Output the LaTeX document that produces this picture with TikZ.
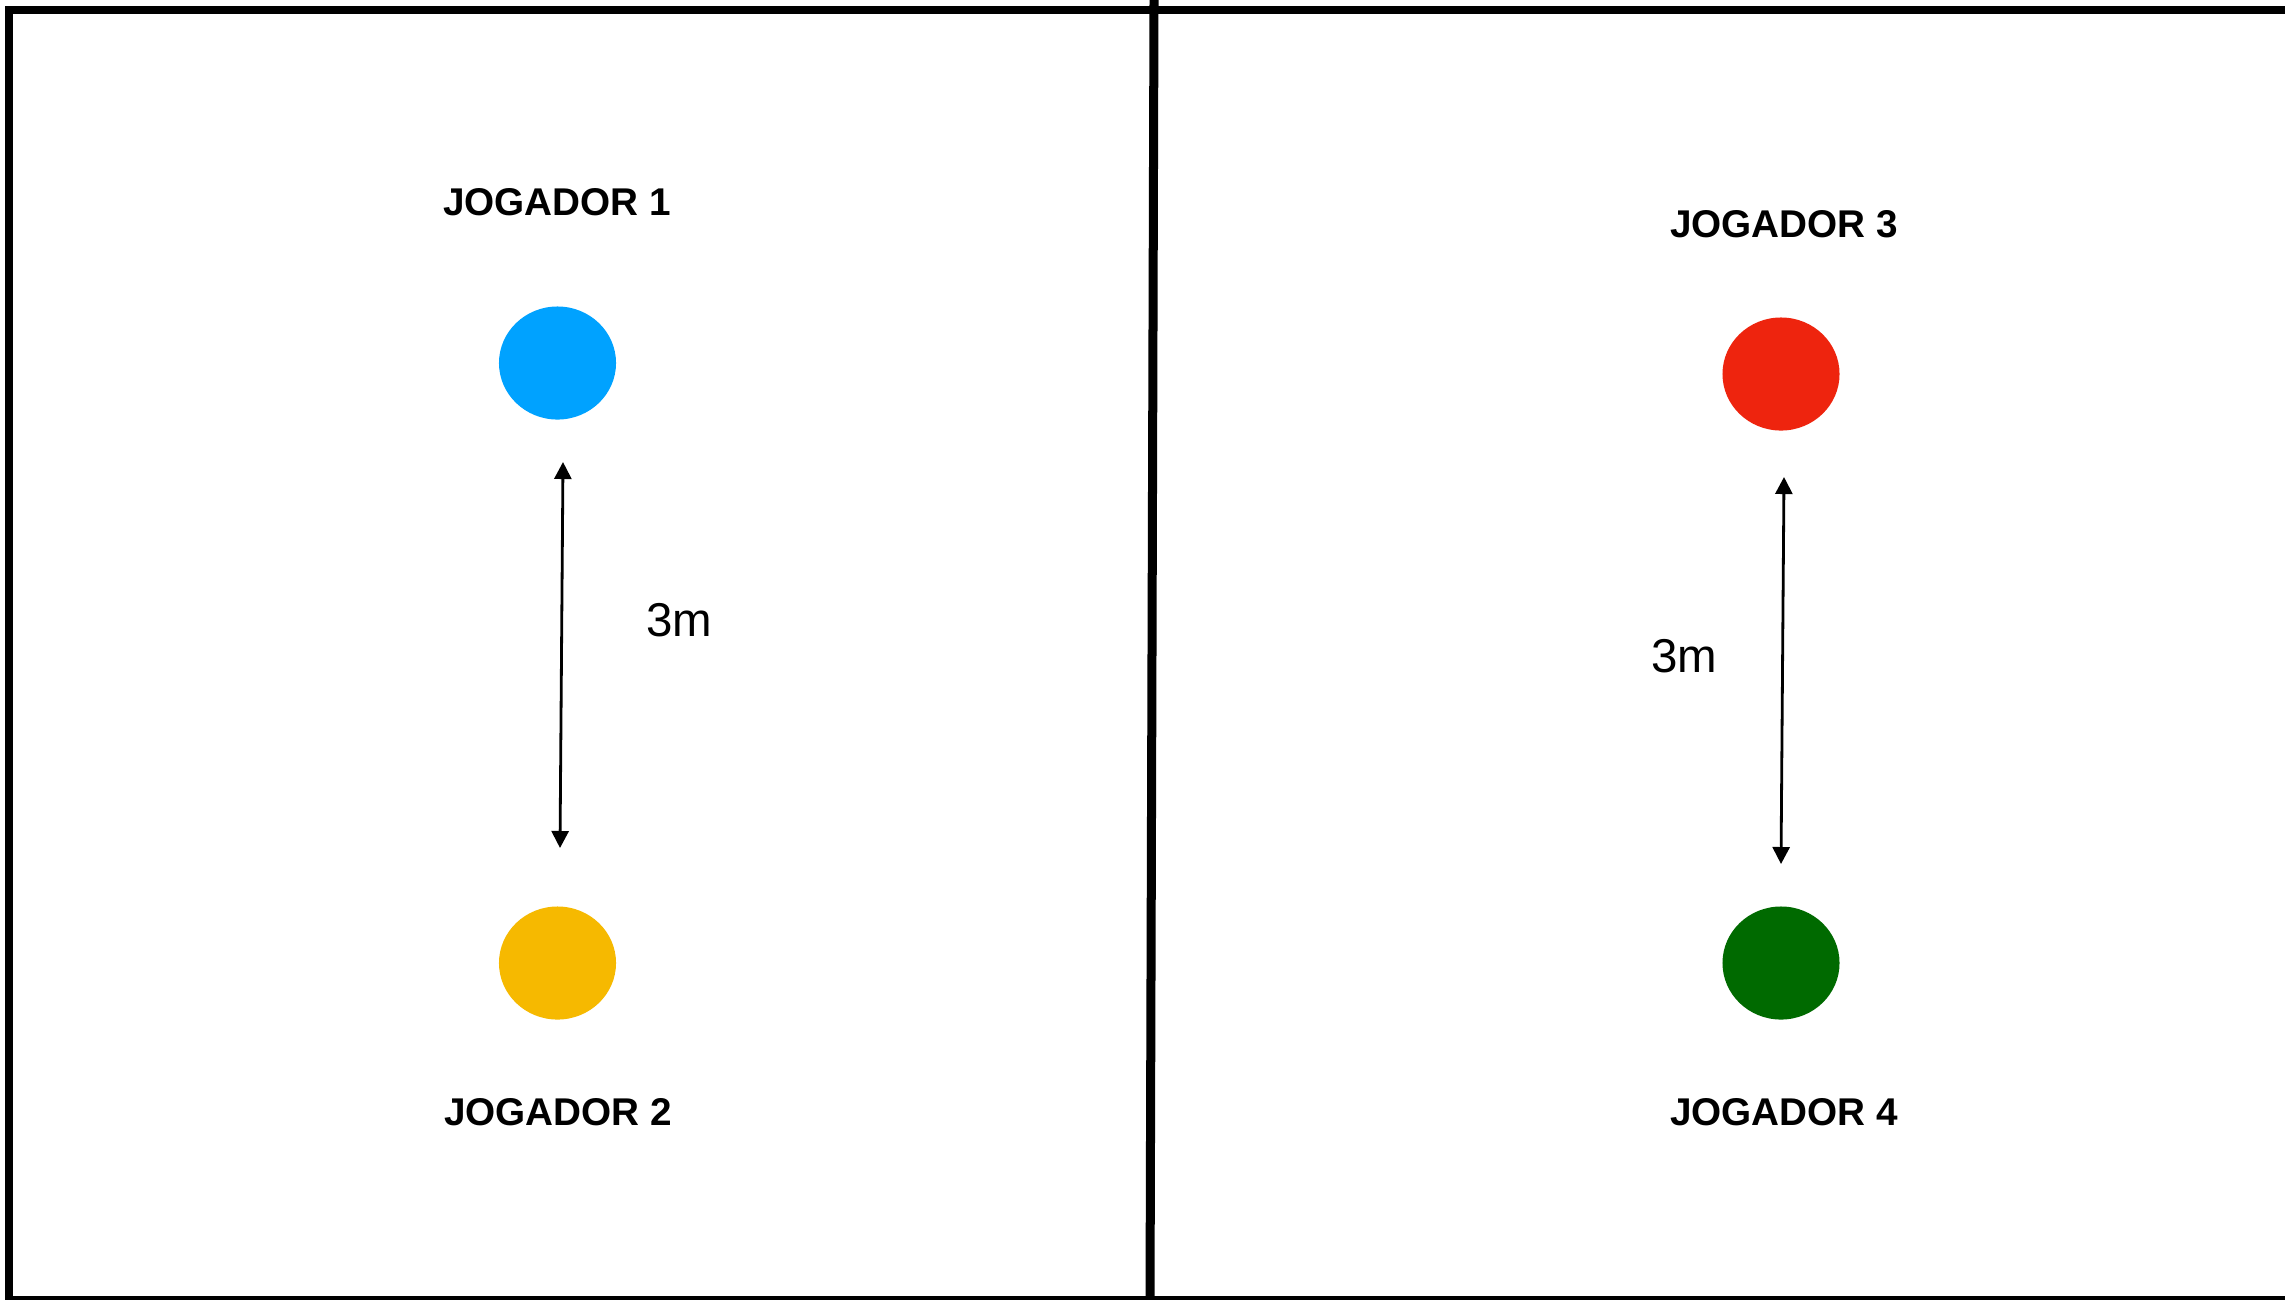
\documentclass[tikz,border=0pt]{standalone}
\usepackage{fontspec}
\setmainfont{Liberation Sans}
\usetikzlibrary{arrows.meta,shapes.geometric}
\definecolor{pblue}{RGB}{0,162,255}
\definecolor{pyellow}{RGB}{246,185,0}
\definecolor{pred}{RGB}{238,36,14}
\definecolor{pgreen}{RGB}{0,106,0}
\begin{document}
\begin{tikzpicture}[x=0.01cm,y=-0.01cm,
  player/.style={ellipse,minimum width=1.17cm,minimum height=1.13cm,inner sep=0pt,draw=none},
  lbl/.style={inner sep=0pt,font=\fontsize{11}{13}\selectfont\bfseries},
  dist/.style={inner sep=0pt,font=\fontsize{13.5}{16}\selectfont},
  measure/.style={line width=0.028cm,{Triangle[length=0.17cm,width=0.17cm]}-{Triangle[length=0.17cm,width=0.17cm]}},
  wall/.style={line width=0.08cm}]
\useasboundingbox (0,0) rectangle (2285,1299);
\clip (0,0) rectangle (2285,1299);
\fill[white] (0,0) rectangle (2285,1299);
% frame and divider
\draw[wall] (9,9.5) rectangle (2300,1300);
\draw[wall,line width=0.09cm] (1154,0) -- (1150,1299);
% players
\node[player,fill=pblue] (p1) at (557.5,363) {};
\node[player,fill=pyellow] (p2) at (557.5,963) {};
\node[player,fill=pred] (p3) at (1781,374) {};
\node[player,fill=pgreen] (p4) at (1781,963) {};
% labels
\node[lbl] (l1) at (557,202) {JOGADOR 1};
\node[lbl] (l2) at (558,1112) {JOGADOR 2};
\node[lbl] (l3) at (1784,224) {JOGADOR 3};
\node[lbl] (l4) at (1784,1112) {JOGADOR 4};
% measures
\coordinate (a1t) at (563,462);
\coordinate (a1b) at (560,848);
\coordinate (a2t) at (1784,477);
\coordinate (a2b) at (1781,864);
\draw[measure] (a1t) -- (a1b);
\draw[measure] (a2t) -- (a2b);
\node[dist] (d1) at (679,620) {3m};
\node[dist] (d2) at (1684,656) {3m};
\end{tikzpicture}
\end{document}
